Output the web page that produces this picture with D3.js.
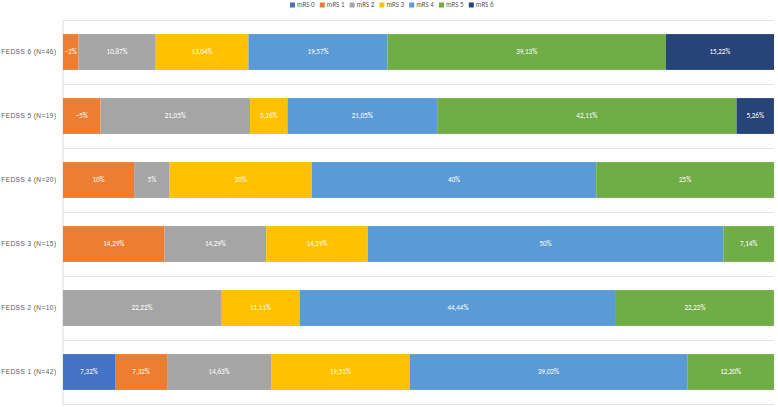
<!DOCTYPE html>
<html>
<head>
<meta charset="utf-8">
<script src="https://cdn.jsdelivr.net/npm/d3@7"></script>
<style>
  body { margin: 0; background: #fff; }
  svg { display: block; font-family: Calibri, Carlito, "Liberation Sans", sans-serif; }
</style>
</head>
<body>
<div class="chart"></div>
<script>
// categories top to bottom
const groups = ["FEDSS 6 (N=46)", "FEDSS 5 (N=19)", "FEDSS 4 (N=20)", "FEDSS 3 (N=15)", "FEDSS 2 (N=10)", "FEDSS 1 (N=42)"];
const seriesNames = ["mRS 0", "mRS 1", "mRS 2", "mRS 3", "mRS 4", "mRS 5", "mRS 6"];
const colors = ["#4472C4", "#ED7D31", "#A5A5A5", "#FFC000", "#5B9BD5", "#70AD47", "#264478"];

// percent per group, same order as groups
const mrs0 = [0, 0, 0, 0, 0, 7.32];
const mrs1 = [2.17, 5.26, 10, 14.29, 0, 7.32];
const mrs2 = [10.87, 21.05, 5, 14.29, 22.22, 14.63];
const mrs3 = [13.04, 5.26, 20, 14.29, 11.11, 19.51];
const mrs4 = [19.57, 21.05, 40, 50, 44.44, 39.02];
const mrs5 = [39.13, 42.11, 25, 7.14, 22.22, 12.20];
const mrs6 = [15.22, 5.26, 0, 0, 0, 0];
// labels shown as approximations in the original
const approxLabels = {"FEDSS 6 (N=46)|mRS 1": "~2%", "FEDSS 5 (N=19)|mRS 1": "~5%"};

const seriesValues = [mrs0, mrs1, mrs2, mrs3, mrs4, mrs5, mrs6];

const width = 778, height = 407;
const margin = {top: 20, right: 4, bottom: 3, left: 63};

const rows = groups.map((g, i) => {
  const r = {group: g};
  seriesNames.forEach((s, j) => r[s] = seriesValues[j][i]);
  return r;
});
const stacked = d3.stack().keys(seriesNames)(rows);

const x = d3.scaleLinear().domain([0, 100]).range([margin.left, width - margin.right]);
const y = d3.scaleBand().domain(groups).range([margin.top, height - margin.bottom]).paddingInner(0.44).paddingOuter(0.22);
const color = d3.scaleOrdinal(seriesNames, colors);

const svg = d3.select(".chart").append("svg")
    .attr("width", width)
    .attr("height", height)
    .attr("viewBox", [0, 0, width, height]);

// horizontal separators between categories
const rowH = (height - margin.top - margin.bottom) / groups.length;
svg.append("g")
  .selectAll("line")
  .data(d3.range(groups.length + 1))
  .join("line")
    .attr("x1", margin.left)
    .attr("x2", width - margin.right)
    .attr("y1", i => Math.round(margin.top + i * rowH) + 0.5)
    .attr("y2", i => Math.round(margin.top + i * rowH) + 0.5)
    .attr("stroke", "#e3e3e3")
    .attr("stroke-width", 1);

// y axis
svg.append("g")
    .attr("transform", `translate(${margin.left - 0.5},0)`)
    .call(d3.axisLeft(y).tickSize(0).tickPadding(6))
    .call(g => g.select(".domain").attr("stroke", "#d9d9d9"))
    .call(g => g.selectAll(".tick text")
        .attr("font-size", 6.5)
        .attr("letter-spacing", "0.45px")
        .attr("fill", "#595959"));

// bars
const layer = svg.append("g")
  .selectAll("g")
  .data(stacked)
  .join("g")
    .attr("fill", d => color(d.key));

layer.selectAll("rect")
  .data(d => d.map(v => Object.assign(v, {key: d.key})))
  .join("rect")
    .attr("x", d => x(d[0]))
    .attr("y", d => y(d.data.group))
    .attr("width", d => x(d[1]) - x(d[0]))
    .attr("height", y.bandwidth());

// labels
const fmt = v => Number.isInteger(v) ? `${v}%` : d3.format(".2f")(v).replace(".", ",") + "%";
svg.append("g")
    .attr("font-size", 7)
    .attr("fill", "#fff")
    .attr("text-anchor", "middle")
  .selectAll("text")
  .data(stacked.flatMap(s => s.filter(d => d[1] - d[0] > 0)))
  .join("text")
    .attr("x", d => (x(d[0]) + x(d[1])) / 2)
    .attr("y", d => y(d.data.group) + y.bandwidth() / 2)
    .attr("dy", "0.35em")
    .text(d => approxLabels[d.data.group + "|" + d.key] || fmt(+d.data[d.key]));

// legend
const legend = svg.append("g")
  .selectAll("g")
  .data(seriesNames)
  .join("g")
    .attr("transform", (d, i) => `translate(${290 + i * 29.8},5)`);

legend.append("rect")
    .attr("x", 0)
    .attr("y", -2.5)
    .attr("width", 5)
    .attr("height", 5)
    .attr("fill", d => color(d));

legend.append("text")
    .attr("x", 7)
    .attr("dy", "0.35em")
    .attr("font-size", 7)
    .attr("fill", "#595959")
    .text(d => d);
</script>
</body>
</html>
